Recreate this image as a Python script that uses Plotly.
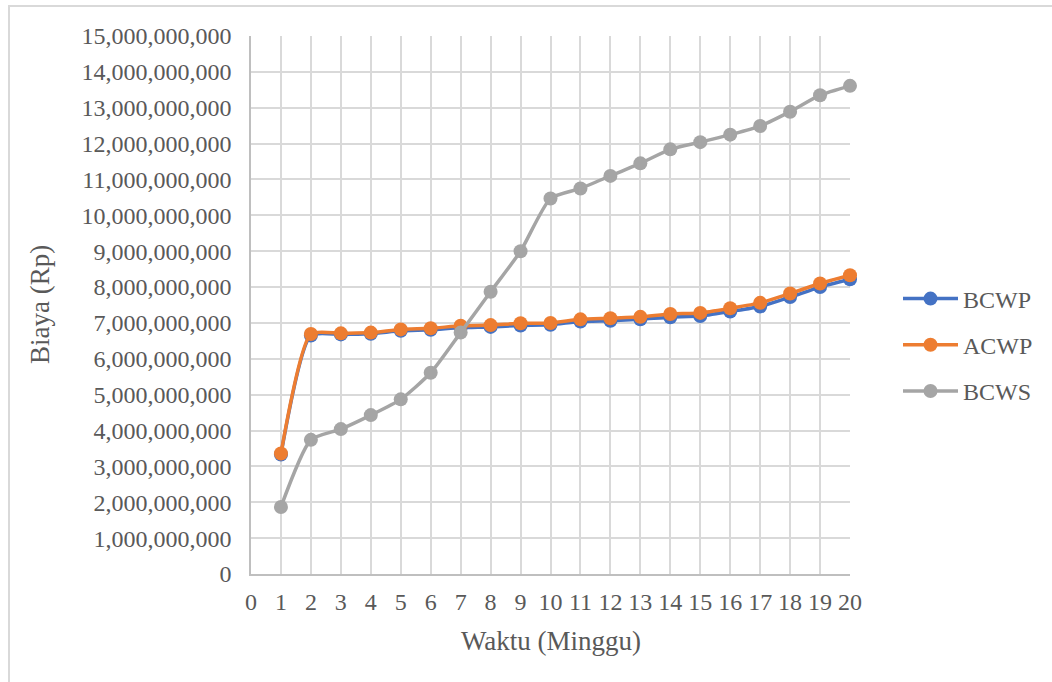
import plotly.graph_objects as go

weeks = list(range(1, 21))
bcwp = [3.33, 6.65, 6.68, 6.70, 6.78, 6.81, 6.87, 6.89, 6.93, 6.95,
        7.04, 7.06, 7.10, 7.16, 7.19, 7.32, 7.46, 7.72, 8.00, 8.22]
acwp = [3.36, 6.69, 6.71, 6.73, 6.82, 6.85, 6.92, 6.94, 6.99, 7.00,
        7.10, 7.13, 7.17, 7.25, 7.28, 7.41, 7.56, 7.82, 8.10, 8.33]
bcws = [1.87, 3.74, 4.04, 4.43, 4.87, 5.61, 6.73, 7.87, 9.00, 10.47,
        10.75, 11.10, 11.45, 11.84, 12.04, 12.25, 12.49, 12.89, 13.35, 13.61]
names = ["BCWP", "ACWP", "BCWS"]
colors = ["#4472C4", "#ED7D31", "#A5A5A5"]
x_ticks = list(range(0, 21))
y_ticks = [i * 1e9 for i in range(0, 16)]

FONT = "Liberation Serif, Times New Roman, serif"
TXT = "#595959"

fig = go.Figure()
for name, vals, col in zip(names, [bcwp, acwp, bcws], colors):
    fig.add_trace(go.Scatter(
        x=weeks, y=[v * 1e9 for v in vals], name=name, legendgroup=name,
        mode="lines+markers",
        line=dict(color=col, width=3.5, shape="spline", smoothing=0.6),
        marker=dict(color=col, size=14),
        cliponaxis=False,
    ))

L, R, T, B = 251, 850, 36, 574
W, H = 1052, 682

def px_x(p):
    return (p - L) / (R - L)

def px_y(p):
    return (B - p) / (B - T)

fig.update_layout(
    width=W, height=H,
    margin=dict(l=L, r=W - R, t=T, b=H - B),
    paper_bgcolor="white", plot_bgcolor="white",
    font=dict(family=FONT, size=24, color=TXT),
    showlegend=True,
    legend=dict(x=px_x(898), xanchor="left", y=px_y(345), yanchor="middle",
                tracegroupgap=12, itemwidth=55, font=dict(size=24, color=TXT),
                bgcolor="rgba(0,0,0,0)"),
    xaxis=dict(range=[0, 20], tickvals=x_ticks, ticktext=[str(v) for v in x_ticks],
               showgrid=True, gridcolor="#d9d9d9", gridwidth=1.5,
               showline=True, linecolor="#bfbfbf", linewidth=1.5,
               zeroline=False, ticks="", ticklabelstandoff=5,
               tickfont=dict(size=24, color=TXT)),
    yaxis=dict(range=[0, 15e9], tickvals=y_ticks, tickformat=",d",
               showgrid=True, gridcolor="#d9d9d9", gridwidth=1.5,
               showline=True, linecolor="#bfbfbf", linewidth=1.5,
               zeroline=False, ticks="", ticklabelstandoff=13,
               tickfont=dict(size=24, color=TXT)),
    annotations=[
        dict(text="Biaya (Rp)", xref="paper", yref="paper",
             x=px_x(40), y=px_y(305), textangle=-90, showarrow=False,
             xanchor="center", yanchor="middle", font=dict(size=27, color=TXT)),
        dict(text="Waktu (Minggu)", xref="paper", yref="paper",
             x=px_x(551), y=px_y(641), showarrow=False,
             xanchor="center", yanchor="middle", font=dict(size=27, color=TXT)),
    ],
    shapes=[dict(type="rect", xref="paper", yref="paper",
                 x0=px_x(9), x1=px_x(1080), y0=px_y(720), y1=px_y(6),
                 line=dict(color="#d9d9d9", width=2), layer="below")],
)

fig.write_html("out.html", config={"displayModeBar": False},
               post_script="document.body.style.margin='0';document.body.style.overflow='hidden';")
